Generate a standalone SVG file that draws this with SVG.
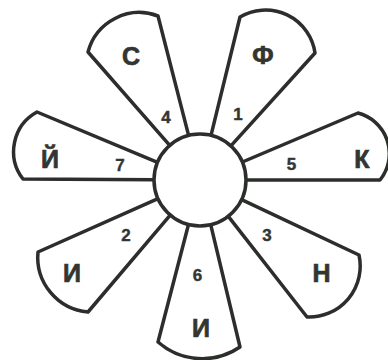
<svg xmlns="http://www.w3.org/2000/svg" width="388" height="360" viewBox="0 0 388 360">
<style>
.petal{fill:none;stroke:#2b2e2b;stroke-width:3.5;stroke-linejoin:round;stroke-linecap:round}
.core{fill:#ffffff;stroke:#2b2e2b;stroke-width:3.5}
.let{font-family:"Liberation Sans",Arial,sans-serif;font-weight:bold;font-size:25px;fill:#333533;stroke:#333533;stroke-width:0.7;text-anchor:middle}
.num{font-family:"Liberation Sans",Arial,sans-serif;font-weight:bold;font-size:17px;fill:#333533;stroke:#333533;stroke-width:0.4;text-anchor:middle}
</style>
<rect width="388" height="360" fill="#ffffff"/>
<g id="connectors"></g>
<g id="petal-s">
<path class="petal" d="M169.7,145.4 L88,52 A53,53 0 0 1 158,16 L188.6,135.4"/>
<text class="let" x="131" y="65">С</text>
<text class="num" x="166" y="123">4</text>
</g>
<g id="petal-f">
<path class="petal" d="M211,135.3 L240,17 A50,50 0 0 1 315,53 L230.9,145.9"/>
<text class="let" x="263" y="63.5">Ф</text>
<text class="num" x="238" y="120">1</text>
</g>
<g id="petal-k">
<path class="petal" d="M242.4,162 L358,113 A42,42 0 0 1 380,180 L246,180"/>
<text class="let" x="362" y="168">К</text>
<text class="num" x="291.5" y="169.5">5</text>
</g>
<g id="petal-n">
<path class="petal" d="M241.6,199.6 L359,255 A51,51 0 0 1 307,317 L228.3,216.3"/>
<text class="let" x="321.5" y="282">Н</text>
<text class="num" x="267" y="241">3</text>
</g>
<g id="petal-i-bottom">
<path class="petal" d="M210.7,224.7 L240,347 A67,67 0 0 1 158,342 L188.5,224.5"/>
<text class="let" x="201" y="337">И</text>
<text class="num" x="197.5" y="281">6</text>
</g>
<g id="petal-i-left">
<path class="petal" d="M170.2,215.1 L88,312 A55,55 0 0 1 38,252 L158,198.7"/>
<text class="let" x="72" y="282">И</text>
<text class="num" x="126" y="241">2</text>
</g>
<g id="petal-y">
<path class="petal" d="M154,179.7 L23,179 A45,45 0 0 1 37,112 L157.5,162.3"/>
<text class="let" x="50" y="168">Й</text>
<text class="num" x="120" y="171">7</text>
</g>
<g id="center">
<circle class="core" cx="200" cy="180" r="46"/>
</g>
</svg>
